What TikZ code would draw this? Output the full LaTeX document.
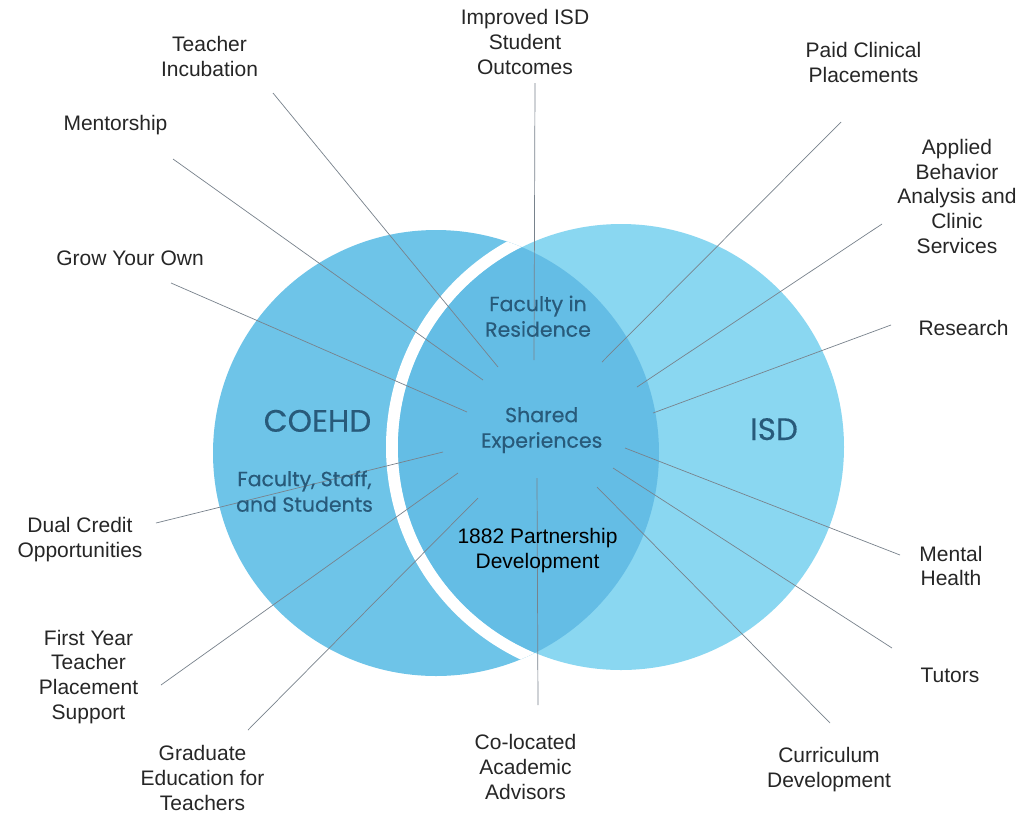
\documentclass[tikz,border=0pt]{standalone}
\usepackage{fontspec}
\setmainfont{Liberation Sans}
\newfontfamily\geo{Poppins}[FakeBold=0.3]
\definecolor{leftc}{RGB}{110,196,232}
\definecolor{rightc}{RGB}{138,215,241}
\definecolor{lensc}{RGB}{100,189,229}
\definecolor{inktxt}{RGB}{40,90,122}
\definecolor{linec}{RGB}{120,130,140}
\begin{document}
\begin{tikzpicture}[x=1pt,y=-1pt,
 lbl/.style={align=center,font=\fontsize{21}{24.6}\selectfont,text=black!85,inner sep=0pt,anchor=base},
 ctr/.style={align=center,font=\geo\fontsize{20.5}{25.5}\selectfont,text=inktxt,inner sep=0pt,anchor=base},
 big/.style={font=\geo\fontsize{31}{33}\selectfont,text=inktxt,inner sep=0pt,anchor=base},
 conn/.style={draw=linec,line width=0.7pt}]
\useasboundingbox (0,0) rectangle (1021,815);
\fill[white] (0,0) rectangle (1021,815);
\coordinate (L) at (436,453);
\coordinate (R) at (621,447);
\fill[leftc] (L) circle (223);
\begin{scope}
 \clip (L) circle (223);
 \fill[white] (R) circle (235);
\end{scope}
\fill[rightc] (R) circle (223);
\begin{scope}
 \clip (L) circle (223);
 \fill[lensc] (R) circle (223);
\end{scope}

% connector ends
\coordinate (tiA) at (273,93);   \coordinate (tiB) at (498,367);
\coordinate (meA) at (173,159);  \coordinate (meB) at (483,380);
\coordinate (gyA) at (171,283);  \coordinate (gyB) at (467,412);
\coordinate (imA) at (535,83);   \coordinate (imB) at (534,360);
\coordinate (paA) at (841,122);  \coordinate (paB) at (602,362);
\coordinate (apA) at (882,224);  \coordinate (apB) at (637,387);
\coordinate (reA) at (891,325);  \coordinate (reB) at (653,413);
\coordinate (mhA) at (900,555);  \coordinate (mhB) at (625,448);
\coordinate (tuA) at (892,648);  \coordinate (tuB) at (613,468);
\coordinate (cuA) at (830,723);  \coordinate (cuB) at (597,487);
\coordinate (coA) at (538,705);  \coordinate (coB) at (537,478);
\coordinate (grA) at (248,730);  \coordinate (grB) at (478,498);
\coordinate (fyA) at (161,685);  \coordinate (fyB) at (458,473);
\coordinate (dcA) at (156,523);  \coordinate (dcB) at (443,452);
\foreach \p in {ti,me,gy,im,pa,ap,re,mh,tu,cu,co,gr,fy,dc}
  \draw[conn] (\p A) -- (\p B);

% outer labels (anchor = baseline of last line)
\node[lbl] (ti) at (209.5,76) {Teacher\\Incubation};
\node[lbl] (me) at (115.5,130) {Mentorship};
\node[lbl] (gy) at (130,265) {Grow Your Own};
\node[lbl] (im) at (525,74) {Improved ISD\\Student\\Outcomes};
\node[lbl] (pa) at (863.5,82.3) {Paid Clinical\\Placements};
\node[lbl] (ap) at (957,253) {Applied\\Behavior\\Analysis and\\Clinic\\Services};
\node[lbl] (re) at (963.5,335) {Research};
\node[lbl] (mh) at (951,585.7) {Mental\\Health};
\node[lbl] (tu) at (950,682) {Tutors};
\node[lbl] (cu) at (829,787) {Curriculum\\Development};
\node[lbl] (co) at (525.5,799) {Co-located\\Academic\\Advisors};
\node[lbl] (gr) at (202.5,810) {Graduate\\Education for\\Teachers};
\node[lbl] (fy) at (88.5,719) {First Year\\Teacher\\Placement\\Support};
\node[lbl] (dc) at (80,557) {Dual Credit\\Opportunities};

% inner labels
\node[big] (coehd) at (317.5,431.7) {COEHD};
\node[big] (isd) at (774,440) {ISD};
\node[ctr] (fss) at (304.5,511.7) {Faculty, Staff,\\and Students};
\node[ctr] (fir) at (538,336.7) {Faculty in\\Residence};
\node[ctr] (se) at (541.7,447.7) {Shared\\Experiences};
\node[lbl,text=black] (pd) at (537.5,568.3) {1882 Partnership\\Development};
\end{tikzpicture}
\end{document}
